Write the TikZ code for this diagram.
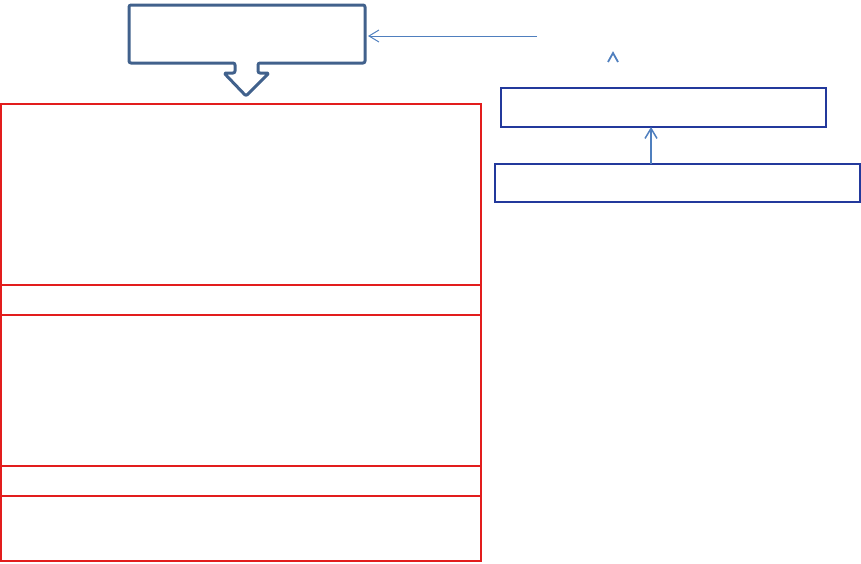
\documentclass[tikz,border=0pt]{standalone}
\usepackage{xcolor}
\usepackage{tikz}
\usetikzlibrary{calc}
\usetikzlibrary{arrows.meta,positioning}

\definecolor{calloutblue}{HTML}{41618C}
\definecolor{linkblue}{HTML}{4F7FBE}
\definecolor{boxblue}{HTML}{23399C}
\definecolor{stackred}{HTML}{E21D1D}

\begin{document}
\begin{tikzpicture}[x=1pt,y=-1pt,
  redpart/.style={draw=stackred,line width=1.3pt,minimum width=480pt,inner sep=0pt,outer sep=0pt},
  bluebox/.style={draw=boxblue,line width=1.4pt,inner sep=0pt,outer sep=0pt},
  barb/.style={-{Straight Barb[length=10pt,width=12pt]}}]
\useasboundingbox (0,0) rectangle (861,563);

% Callout with down arrow
\draw[calloutblue,line width=3pt,rounded corners=2pt,line join=round]
  (129,5) -- (365,5) -- (365,63) -- (258,63) -- (258,73) -- (269,73)
  -- (246,96) -- (224,73) -- (235,73) -- (235,63) -- (129,63) -- cycle;
\node[minimum width=236pt,minimum height=58pt,inner sep=0pt,outer sep=3pt] (callout) at (247,34) {};

% Red stack
\node[redpart,anchor=north west,minimum height=181pt] (part1) at (1,104) {};
\node[redpart,minimum height=30pt,below=0pt of part1] (part2) {};
\node[redpart,minimum height=151pt,below=0pt of part2] (part3) {};
\node[redpart,minimum height=30pt,below=0pt of part3] (part4) {};
\node[redpart,minimum height=65pt,below=0pt of part4] (part5) {};

% Blue boxes
\node[bluebox,anchor=north west,minimum width=325pt,minimum height=39pt] (upper) at (501,88) {};
\node[bluebox,anchor=north west,minimum width=365pt,minimum height=38pt] (lower) at (495,164) {};

% Links
\coordinate (feed) at (537,36);
\draw[linkblue,line width=1pt,barb] (feed) -- (callout.east |- feed);
\coordinate (riser) at (651,0);
\draw[linkblue,line width=1.5pt,barb] (lower.north -| riser) -- (upper.south -| riser);

% Lone tip
\draw[linkblue,line width=1.8pt] (608,62) -- (613,53) -- (618,62);
\end{tikzpicture}
\end{document}
